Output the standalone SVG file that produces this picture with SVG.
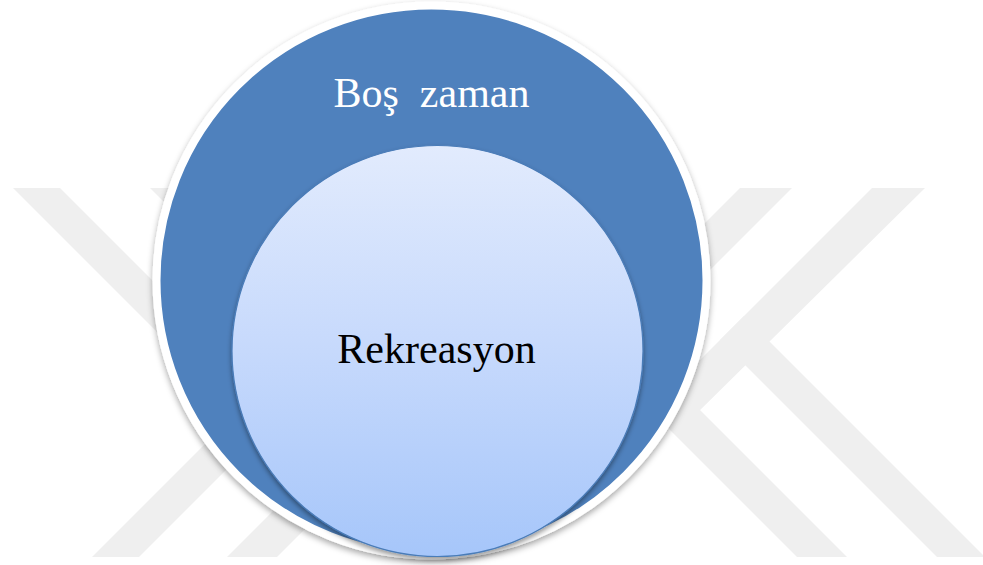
<svg xmlns="http://www.w3.org/2000/svg" width="983" height="565" viewBox="0 0 983 565">
  <style>
    .wm { fill: #EFEFEF; }
    .label { font-family: "Liberation Serif", "Times New Roman", serif; font-size: 42px; text-anchor: middle; white-space: pre; }
  </style>
  <defs>
    <linearGradient id="innerGrad" x1="0" y1="0" x2="0" y2="1">
      <stop offset="0" stop-color="#E2EBFD"/>
      <stop offset="0.5" stop-color="#C6D9FC"/>
      <stop offset="1" stop-color="#A6C6FA"/>
    </linearGradient>
    <filter id="outerShadow" x="-10%" y="-10%" width="120%" height="125%">
      <feDropShadow dx="0" dy="3" stdDeviation="3" flood-color="#000" flood-opacity="0.35"/>
    </filter>
    <filter id="innerShadow" x="-10%" y="-10%" width="120%" height="125%">
      <feDropShadow dx="0" dy="3" stdDeviation="2.5" flood-color="#000" flood-opacity="0.4"/>
    </filter>
  </defs>

  <rect x="0" y="0" width="983" height="565" fill="#FFFFFF"/>

  <!-- faint watermark -->
  <g id="watermark">
    <polygon class="wm" points="13,188 60,188 360,488 313,488"/>
    <polygon class="wm" points="150,188 200,188 400,388 350,388"/>
    <polygon class="wm" points="92,557 139,557 300,396 253,396"/>
    <polygon class="wm" points="227,557 277,557 400,434 350,434"/>
    <polygon class="wm" points="740,188 792,188 642,338 590,338"/>
    <polygon class="wm" points="872,188 925,188 690,420 640,420"/>
    <polygon class="wm" points="720,340 744,316 985,557 937,557"/>
    <polygon class="wm" points="550,310 600,310 847,557 797,557"/>
  </g>

  <g id="connectors"/>

  <g id="bos-zaman">
    <circle cx="431.5" cy="280.5" r="275" fill="#4F81BD" stroke="#FFFFFF" stroke-width="8" filter="url(#outerShadow)"/>
    <text class="label" x="431.5" y="107" fill="#FFFFFF">Boş  zaman</text>
  </g>

  <g id="rekreasyon">
    <circle cx="437.5" cy="351" r="205.5" fill="url(#innerGrad)" stroke="#4A7CB8" stroke-width="1.2" filter="url(#innerShadow)"/>
    <text class="label" x="436.5" y="363" fill="#000000">Rekreasyon</text>
  </g>
</svg>
